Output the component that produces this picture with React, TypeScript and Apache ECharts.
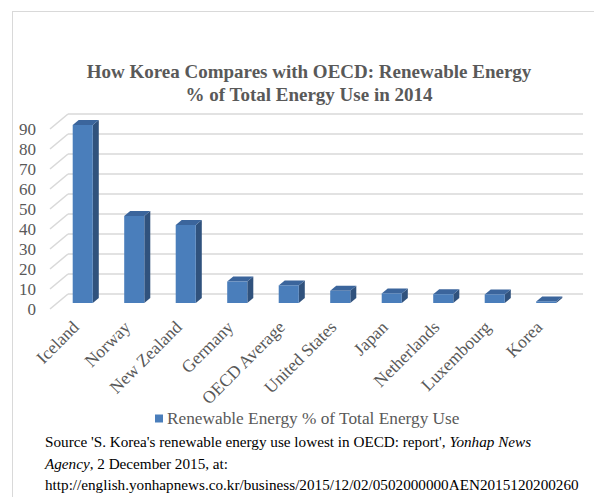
import React, { useEffect, useRef } from "react";
import * as echarts from "echarts";

const categories = [
  "Iceland",
  "Norway",
  "New Zealand",
  "Germany",
  "OECD Average",
  "United States",
  "Japan",
  "Netherlands",
  "Luxembourg",
  "Korea",
];
const values = [89, 43.5, 39, 10.8, 8.8, 6.1, 4.8, 4.4, 4.3, 0.8];
const tickValues = [0, 10, 20, 30, 40, 50, 60, 70, 80, 90];
const seriesName = "Renewable Energy % of Total Energy Use";
const titleText = "How Korea Compares with OECD: Renewable Energy\n% of Total Energy Use in 2014";

const SERIF = "Liberation Serif";

export default function App() {
  const ref = useRef<HTMLDivElement>(null);
  useEffect(() => {
    document.body.style.margin = "0";
    const chart = echarts.init(ref.current!, null, { renderer: "svg" });
    const FRONT = "#4a7ebb";
    const SIDE = "#30527d";
    const TOP = "#3b659c";
    const DX = 6;
    const DY = -5;
    const option: any = {
      animation: false,
      backgroundColor: "#ffffff",
      textStyle: { fontFamily: SERIF },
      title: {
        text: titleText,
        left: 304,
        textAlign: "center",
        top: 55,
        textStyle: {
          fontFamily: SERIF,
          fontWeight: "bold",
          fontSize: 19,
          lineHeight: 23,
          color: "#595959",
        },
      },
      legend: {
        data: [seriesName],
        left: 150,
        top: 405,
        itemWidth: 8,
        itemHeight: 8,
        icon: "rect",
        itemGap: 4,
        textStyle: { fontFamily: SERIF, fontSize: 17.3, color: "#595959", padding: [0, 0, 0, -1] },
      },
      grid: [
        // back wall
        { left: 68, top: 114, width: 515, height: 180 },
        // front label plane
        { left: 50, top: 129, width: 515, height: 180 },
        // bar plane
        { left: 57, top: 123, width: 515, height: 180 },
      ],
      xAxis: [
        { gridIndex: 0, type: "value", min: 0, max: 1, show: false },
        {
          gridIndex: 1,
          type: "category",
          data: categories,
          axisLine: { show: false },
          axisTick: { show: false },
          axisLabel: {
            rotate: 45,
            margin: 15,
            interval: 0,
            fontFamily: SERIF,
            fontSize: 17.5,
            color: "#595959",
          },
        },
        { gridIndex: 2, type: "category", data: categories, show: false },
      ],
      yAxis: [
        { gridIndex: 0, type: "value", min: 0, max: 90, interval: 10, show: false },
        {
          gridIndex: 1,
          type: "value",
          min: 0,
          max: 90,
          interval: 10,
          axisLine: { show: false },
          axisTick: { show: false },
          splitLine: { show: false },
          axisLabel: { margin: 14, fontFamily: SERIF, fontSize: 17, color: "#595959" },
        },
        { gridIndex: 2, type: "value", min: 0, max: 90, show: false },
      ],
      series: [
        {
          type: "custom",
          name: "grid",
          xAxisIndex: 0,
          yAxisIndex: 0,
          silent: true,
          data: tickValues.map((v) => [0, v]),
          encode: { x: 0, y: 1 },
          renderItem: (params: any, api: any) => {
            const v = api.value(1);
            const p0 = api.coord([0, v]);
            const p1 = api.coord([1, v]);
            const st = { stroke: "#d9d9d9", lineWidth: 1.6 };
            return {
              type: "group",
              children: [
                { type: "line", shape: { x1: p0[0], y1: p0[1], x2: p1[0], y2: p1[1] }, style: st },
                { type: "line", shape: { x1: p0[0], y1: p0[1], x2: p0[0] - 18, y2: p0[1] + 15 }, style: st },
              ],
            };
          },
        },
        {
          type: "custom",
          name: seriesName,
          xAxisIndex: 2,
          yAxisIndex: 2,
          itemStyle: { color: FRONT },
          data: values.map((v, i) => [i, v]),
          encode: { x: 0, y: 1 },
          renderItem: (params: any, api: any) => {
            const i = api.value(0);
            const v = api.value(1);
            const base = api.coord([i, 0]);
            const top = api.coord([i, v]);
            const bw = api.size([1, 0])[0] * 0.39;
            const xl = base[0] - bw / 2;
            const xr = base[0] + bw / 2;
            const yt = top[1];
            const yb = base[1];
            return {
              type: "group",
              children: [
                {
                  type: "polygon",
                  shape: { points: [[xr, yb], [xr + DX, yb + DY], [xr + DX, yt + DY], [xr, yt]] },
                  style: { fill: SIDE },
                },
                {
                  type: "polygon",
                  shape: { points: [[xl, yt], [xl + DX, yt + DY], [xr + DX, yt + DY], [xr, yt]] },
                  style: { fill: TOP },
                },
                {
                  type: "rect",
                  shape: { x: xl, y: yt, width: bw, height: Math.max(yb - yt, 0.8) },
                  style: { fill: FRONT },
                },
              ],
            };
          },
        },
      ],
      graphic: [
        { type: "line", shape: { x1: 12, y1: 11.5, x2: 594, y2: 11.5 }, style: { stroke: "#d9d9d9", lineWidth: 1 } },
        { type: "line", shape: { x1: 12.5, y1: 11.5, x2: 12.5, y2: 497 }, style: { stroke: "#d9d9d9", lineWidth: 1 } },
        {
          type: "text",
          left: 45,
          top: 434,
          style: {
            text:
              "{n|Source 'S. Korea's renewable energy use lowest in OECD: report', }{i|Yonhap News}\n{i|Agency}{n|, 2 December 2015, at:}\n{n|http://english.yonhapnews.co.kr/business/2015/12/02/0502000000AEN2015120200260}",
            rich: {
              n: { fontFamily: SERIF, fontSize: 15.2, color: "#000000", lineHeight: 21.5 },
              i: { fontFamily: SERIF, fontSize: 15.2, fontStyle: "italic", color: "#000000", lineHeight: 21.5 },
            },
          },
        },
      ],
    };
    chart.setOption(option);
    return () => chart.dispose();
  }, []);
  return <div ref={ref} style={{ width: 594, height: 497 }} />;
}
